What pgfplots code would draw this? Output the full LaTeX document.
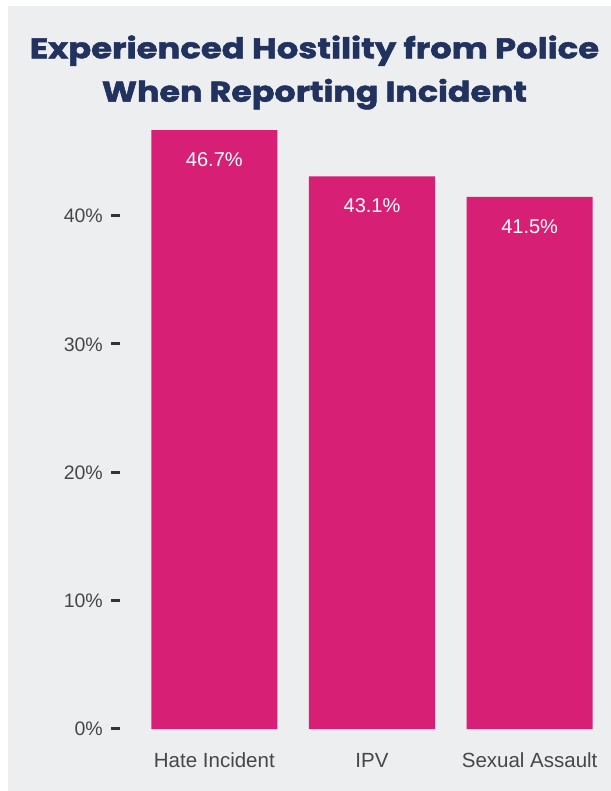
\documentclass[border=0pt]{standalone}
\usepackage{pgfplots}
\pgfplotsset{compat=1.18}
\usepackage{fontspec}
\setmainfont{Liberation Sans}
\newfontfamily\titlefont{Poppins}[BoldFeatures={FakeBold=1.6}]

\definecolor{bg}{HTML}{EDEEF0}
\definecolor{navy}{HTML}{22325F}
\definecolor{barpink}{HTML}{D81F76}
\definecolor{ticktext}{HTML}{474747}
\definecolor{dash}{HTML}{333333}

\begin{document}
\begin{tikzpicture}
  % page frame, 1px = 1bp, y downwards negative
  \fill[bg] (8bp,-6bp) rectangle (611bp,-791bp);

  \node[anchor=base, text=navy, font=\titlefont\bfseries\fontsize{28.5bp}{34bp}\selectfont]
    at (314.5bp,-58.3bp) {\scalebox{1.19}[1]{Experienced Hostility from Police}};
  \node[anchor=base, text=navy, font=\titlefont\bfseries\fontsize{28.5bp}{34bp}\selectfont]
    at (314.5bp,-101.7bp) {\scalebox{1.17}[1]{When Reporting Incident}};

  \begin{axis}[
    at={(135.5bp,-729bp)}, anchor=south west,
    scale only axis,
    width=473bp, height=609bp,
    xmin=-0.5, xmax=2.5,
    ymin=0, ymax=47.49,
    axis line style={draw=none},
    major tick length=0pt,
    xtick={0,1,2},
    xticklabels={Hate Incident, IPV, Sexual Assault},
    xticklabel style={anchor=base, inner sep=0pt, yshift=-38bp,
      text=ticktext, font=\fontsize{20.5bp}{22bp}\selectfont},
    ytick={0,10,20,30,40},
    yticklabel={\pgfmathprintnumber{\tick}\%\hspace{8bp}{\color{dash}\rule[5.6bp]{9bp}{3bp}}},
    yticklabel style={anchor=east, inner sep=0pt, xshift=-15.5bp,
      text=ticktext, font=\fontsize{19.5bp}{22bp}\selectfont},
    /pgf/number format/assume math mode=true,
    ybar, bar width=0.8,
    nodes near coords={\pgfmathprintnumber[fixed,precision=1,fixed zerofill]{\pgfplotspointmeta}\%},
    every node near coord/.append style={anchor=base, yshift=-36.7bp, inner sep=0pt,
      text=white, font=\fontsize{20bp}{22bp}\selectfont,
      /pgf/number format/assume math mode=true},
  ]
    \addplot[fill=barpink, draw=none] coordinates {
      (0,46.7)
      (1,43.1)
      (2,41.5)
    };
  \end{axis}

  \pgfresetboundingbox
  \useasboundingbox (0,0) rectangle (611bp,-791bp);
\end{tikzpicture}
\end{document}
